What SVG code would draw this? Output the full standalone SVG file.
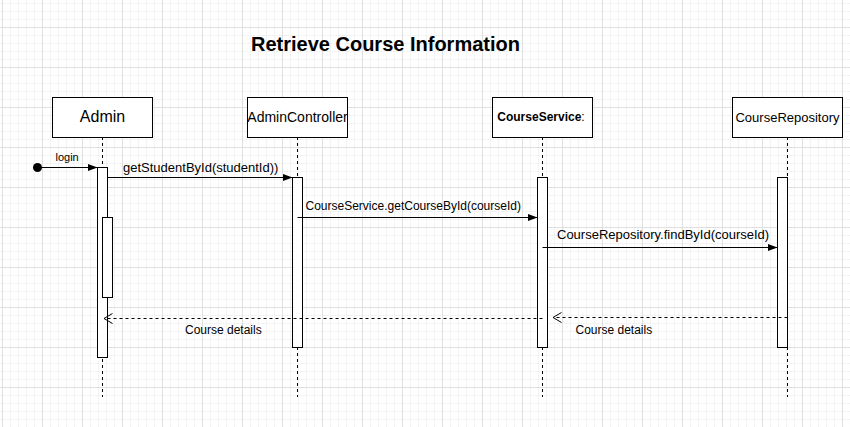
<svg xmlns="http://www.w3.org/2000/svg" width="850" height="427" viewBox="0 0 850 427">
<defs>
<pattern id="grid" patternUnits="userSpaceOnUse" x="2" y="27" width="40" height="40">
<path d="M8.5 0V40M16.5 0V40M24.5 0V40M32.5 0V40M0 8.5H40M0 16.5H40M0 24.5H40M0 32.5H40" stroke="#f3f3f3" stroke-width="1" fill="none"/>
<path d="M0.5 0V40M0 0.5H40" stroke="#e0e0e0" stroke-width="1" fill="none"/>
</pattern>
<marker id="block" viewBox="0 0 10 10" refX="10" refY="5" markerWidth="10" markerHeight="10" markerUnits="userSpaceOnUse" orient="auto">
<path d="M0 1.2L10 5L0 8.8Z" fill="#000"/>
</marker>
<marker id="open" viewBox="0 0 10 12" refX="9" refY="6" markerWidth="10" markerHeight="12" markerUnits="userSpaceOnUse" orient="auto">
<path d="M0.5 1L9 6L0.5 11" fill="none" stroke="#000" stroke-width="1"/>
</marker>
</defs>
<style>
.box{fill:#fff;stroke:#000;stroke-width:1}
.bar{fill:#fff;stroke:#000;stroke-width:1}
.life{stroke:#000;stroke-width:1;stroke-dasharray:3 3;fill:none}
.msg{stroke:#000;stroke-width:1;fill:none}
.ret{stroke:#000;stroke-width:1;stroke-dasharray:3 3;fill:none}
text{font-family:"Liberation Sans",Arial,sans-serif;fill:#000}
.name{text-anchor:middle}
.lbl{font-size:12px}
</style>
<rect width="850" height="427" fill="#fff"/>
<rect width="850" height="427" fill="url(#grid)"/>
<text x="251" y="51" font-size="20" font-weight="bold">Retrieve Course Information</text>

<g id="lifelines">
<path class="life" d="M102.5 137V397M297.5 137V397M542.5 137V397M787.5 137V397"/>
</g>

<g id="admin">
<rect class="box" x="52.5" y="97.5" width="100" height="40"/>
<text class="name" x="102.5" y="122" font-size="16">Admin</text>
<rect class="bar" x="97.5" y="167.5" width="10" height="190"/>
<rect class="bar" x="102.5" y="217.5" width="10" height="80"/>
</g>

<g id="adminController">
<rect class="box" x="247.5" y="97.5" width="100" height="40"/>
<text class="name" x="297.5" y="122" font-size="14">AdminController</text>
<rect class="bar" x="292.5" y="177.5" width="10" height="170"/>
</g>

<g id="courseService">
<rect class="box" x="492.5" y="97.5" width="100" height="40"/>
<text class="name" x="541" y="121" font-size="12"><tspan font-weight="bold">CourseService</tspan>:</text>
<rect class="bar" x="537.5" y="177.5" width="10" height="170"/>
</g>

<g id="courseRepository">
<rect class="box" x="732.5" y="97.5" width="110" height="40"/>
<text class="name" x="787.5" y="122" font-size="13">CourseRepository</text>
<rect class="bar" x="777.5" y="177.5" width="10" height="170"/>
</g>

<g id="connectors">
<circle cx="37.5" cy="167.5" r="4.5" fill="#000"/>
<path class="msg" d="M37.5 167.5H97.5" marker-end="url(#block)"/>
<text x="55.5" y="161" font-size="11">login</text>

<path class="msg" d="M107.5 177.5H292.5" marker-end="url(#block)"/>
<text x="123" y="172" font-size="13">getStudentById(studentId))</text>

<path class="msg" d="M297.5 217.5H537.5" marker-end="url(#block)"/>
<text class="lbl" x="305.5" y="209.5">CourseService.getCourseById(courseId)</text>

<path class="msg" d="M542.5 247.5H777.5" marker-end="url(#block)"/>
<text x="557" y="239" font-size="13">CourseRepository.findById(courseId)</text>

<path class="ret" d="M787.5 317.5H553" marker-end="url(#open)"/>
<text class="lbl" x="575.5" y="333.5">Course details</text>

<path class="ret" d="M542.5 318.5H104" marker-end="url(#open)"/>
<text class="lbl" x="185" y="333.5">Course details</text>
</g>
</svg>
